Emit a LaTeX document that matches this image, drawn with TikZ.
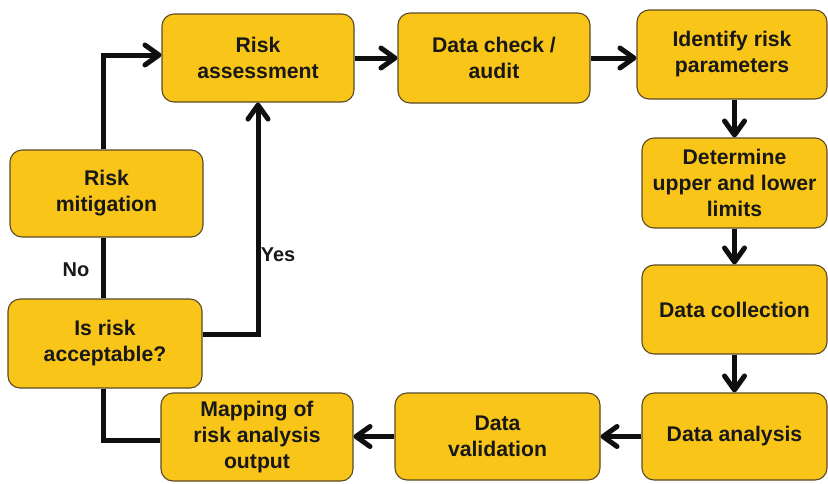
\documentclass[tikz,border=0pt]{standalone}
\usepackage{fontspec}
\setmainfont{Liberation Sans}
\usetikzlibrary{arrows.meta}
\definecolor{boxfill}{RGB}{249,197,24}
\definecolor{boxedge}{RGB}{90,75,40}
\definecolor{textcol}{RGB}{24,24,24}
\definecolor{linecol}{RGB}{15,15,15}
\begin{document}
\begin{tikzpicture}[x=1pt,y=-1pt,
  box/.style={draw=boxedge, line width=1.1pt, fill=boxfill, rounded corners=12pt,
    align=center, inner sep=0pt, text=textcol,
    font=\fontsize{21.2}{26}\selectfont\bfseries},
  conn/.style={draw=linecol, line width=5pt},
  arr/.style={conn, -{Straight Barb[length=14pt,width=20pt,line cap=round,line join=round]}},
  lbl/.style={text=textcol, inner sep=0pt, font=\fontsize{20}{24}\selectfont\bfseries}]
\useasboundingbox (0,0) rectangle (828,483);
\coordinate (lx) at (103,0);
\node[box, minimum width=192pt, minimum height=88pt] (ra) at (258,58) {Risk\\assessment};
\node[box, minimum width=192pt, minimum height=90pt] (dc) at (494,58) {Data check /\\audit};
\node[box, minimum width=190pt, minimum height=89pt] (ip) at (732,54.5) {Identify risk\\parameters};
\node[box, minimum width=185pt, minimum height=90pt] (du) at (734.5,183) {Determine\\upper and lower\\limits};
\node[box, minimum width=185pt, minimum height=89pt] (col) at (734.5,309.5) {Data collection};
\node[box, minimum width=185pt, minimum height=87pt] (ana) at (734.5,436.5) {Data analysis};
\node[box, minimum width=205pt, minimum height=87pt] (val) at (497.5,436.5) {Data\\validation};
\node[box, minimum width=192pt, minimum height=88pt] (map) at (257,437) {Mapping of\\risk analysis\\output};
\node[box, minimum width=194pt, minimum height=89pt] (acc) at (105,343.5) {Is risk\\acceptable?};
\node[box, minimum width=193pt, minimum height=87pt] (mit) at (106.5,193.5) {Risk\\mitigation};
\draw[arr] (mit.north -| lx) |- ([yshift=3pt]ra.west);
\draw[arr] (ra.east) -- (ra.east -| dc.west);
\draw[arr] (dc.east) -- (dc.east -| ip.west);
\draw[arr] (du.north |- ip.south) -- (du.north);
\draw[arr] (du.south) -- (col.north);
\draw[arr] (col.south) -- (ana.north);
\draw[arr] (ana.west) -- (ana.west -| val.east);
\draw[arr] (val.west) -- (val.west -| map.east);
\draw[conn] (acc.south -| lx) |- ([yshift=-3pt]map.west);
\draw[arr] ([yshift=9pt]acc.east) -| (ra.south);
\draw[conn] (acc.north -| lx) -- (mit.south -| lx);
\node[lbl] (no) at (76,270) {No};
\node[lbl] (yes) at (278,255) {Yes};
\end{tikzpicture}
\end{document}
